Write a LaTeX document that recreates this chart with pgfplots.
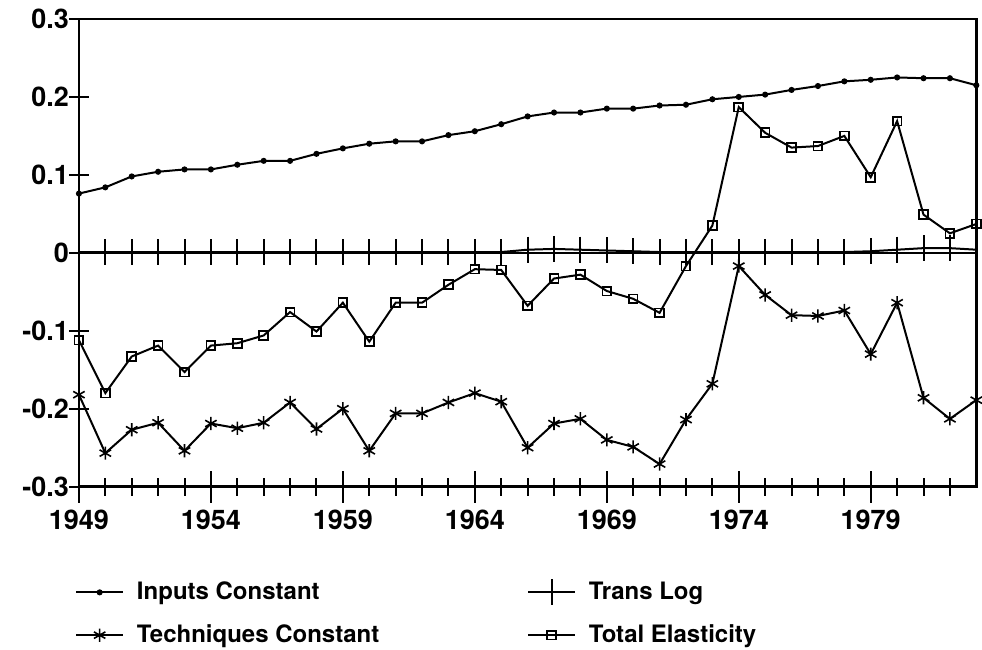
\documentclass[border=0pt]{standalone}
\usepackage{pgfplots}
\pgfplotsset{compat=1.18}
\usetikzlibrary{calc}
\usepackage{fontspec}
\setmainfont{TeX Gyre Heros}
\begin{document}
\begin{tikzpicture}
\begin{axis}[
  name=ax,
  scale only axis, width=449pt, height=234pt,
  xmin=1949, xmax=1983, ymin=-0.3, ymax=0.3,
  clip=false,
  axis line style={line width=1.3pt},
  xtick={1949,1954,1959,1964,1969,1974,1979},
  xticklabels={1949,1954,1959,1964,1969,1974,1979},
  minor xtick={1950,1951,1952,1953,1955,1956,1957,1958,1960,1961,1962,1963,1965,1966,1967,1968,1970,1971,1972,1973,1975,1976,1977,1978,1980,1981,1982},
  extra x ticks={1949,1954,1959,1964,1969,1974,1979},
  extra x tick labels={},
  extra x tick style={major tick length=16pt},
  ytick={-0.3,-0.2,-0.1,0,0.1,0.2,0.3},
  yticklabels={-0.3,-0.2,-0.1,0,0.1,0.2,0.3},
  xtick pos=bottom, ytick pos=left,
  tick align=center,
  major tick length=10pt, minor tick length=9pt,
  every tick/.style={line width=1pt, black},
  every minor tick/.style={line width=1pt, black},
  xticklabel style={font=\fontsize{13.5}{16}\selectfont\bfseries, yshift=-3pt},
  yticklabel style={font=\fontsize{13.5}{16}\selectfont\bfseries, xshift=3.5pt},
  legend columns=2,
  legend cell align=left,
  legend image code/.code={\draw[mark repeat=2,mark phase=2] plot coordinates {(0cm,0cm) (0.41cm,0cm) (0.82cm,0cm)};},
  legend style={at={(0,0)}, anchor=north west, xshift=-2pt, yshift=-45.5pt,
    draw=none, fill=none, inner sep=0pt,
    font=\fontsize{12}{13}\selectfont\bfseries,
    row sep=7pt,
    /tikz/every odd column/.append style={column sep=4.5pt},
    /tikz/every even column/.append style={column sep=72pt}},
]
\coordinate (sw) at (rel axis cs:0,0);
\coordinate (ne) at (rel axis cs:1,1);
\draw[line width=1.2pt] ($(rel axis cs:0,0.5)+(-4pt,0pt)$) -- (rel axis cs:1,0.5);
\addplot[black, line width=1pt, mark=*, mark size=1pt] coordinates {
(1949,0.076)(1950,0.084)(1951,0.098)(1952,0.104)(1953,0.107)(1954,0.107)(1955,0.113)(1956,0.118)(1957,0.118)(1958,0.127)(1959,0.134)(1960,0.140)(1961,0.143)(1962,0.143)(1963,0.151)(1964,0.156)(1965,0.165)(1966,0.175)(1967,0.180)(1968,0.180)(1969,0.185)(1970,0.185)(1971,0.189)(1972,0.190)(1973,0.197)(1974,0.200)(1975,0.203)(1976,0.209)(1977,0.214)(1978,0.220)(1979,0.222)(1980,0.225)(1981,0.224)(1982,0.224)(1983,0.215)};
\addlegendentry{Inputs Constant}
\addplot[black, line width=1pt, mark=|, mark size=6.5pt, mark options={solid, draw=black, line width=1pt}] coordinates {
(1949,0.001)(1950,0.001)(1951,0.001)(1952,0.001)(1953,0.001)(1954,0.001)(1955,0.001)(1956,0.001)(1957,0.001)(1958,0.001)(1959,0.001)(1960,0.001)(1961,0.001)(1962,0.001)(1963,0.001)(1964,0.001)(1965,0.001)(1966,0.004)(1967,0.005)(1968,0.004)(1969,0.003)(1970,0.002)(1971,0.001)(1972,0.001)(1973,0.001)(1974,0.001)(1975,0.001)(1976,0.001)(1977,0.001)(1978,0.001)(1979,0.002)(1980,0.004)(1981,0.006)(1982,0.006)(1983,0.004)};
\addlegendentry{Trans Log}
\addplot[black, line width=1pt, mark=asterisk, mark size=3.3pt, mark options={line width=0.8pt}] coordinates {
(1949,-0.182)(1950,-0.257)(1951,-0.227)(1952,-0.218)(1953,-0.254)(1954,-0.219)(1955,-0.225)(1956,-0.218)(1957,-0.192)(1958,-0.226)(1959,-0.200)(1960,-0.254)(1961,-0.206)(1962,-0.206)(1963,-0.192)(1964,-0.180)(1965,-0.191)(1966,-0.250)(1967,-0.219)(1968,-0.213)(1969,-0.240)(1970,-0.249)(1971,-0.271)(1972,-0.214)(1973,-0.168)(1974,-0.017)(1975,-0.054)(1976,-0.080)(1977,-0.081)(1978,-0.074)(1979,-0.130)(1980,-0.064)(1981,-0.186)(1982,-0.213)(1983,-0.189)};
\addlegendentry{Techniques Constant}
\addplot[black, line width=1pt, mark=square, mark size=2.2pt, mark options={line width=0.9pt, fill=white}] coordinates {
(1949,-0.112)(1950,-0.180)(1951,-0.133)(1952,-0.119)(1953,-0.153)(1954,-0.119)(1955,-0.116)(1956,-0.106)(1957,-0.076)(1958,-0.101)(1959,-0.064)(1960,-0.114)(1961,-0.064)(1962,-0.064)(1963,-0.041)(1964,-0.021)(1965,-0.022)(1966,-0.068)(1967,-0.033)(1968,-0.028)(1969,-0.049)(1970,-0.059)(1971,-0.077)(1972,-0.017)(1973,0.035)(1974,0.187)(1975,0.154)(1976,0.135)(1977,0.137)(1978,0.150)(1979,0.097)(1980,0.169)(1981,0.049)(1982,0.025)(1983,0.037)};
\addlegendentry{Total Elasticity}
\end{axis}
\path ($(sw)+(-39.5pt,-81pt)$) rectangle ($(ne)+(2.5pt,9.5pt)$);
\end{tikzpicture}
\end{document}
